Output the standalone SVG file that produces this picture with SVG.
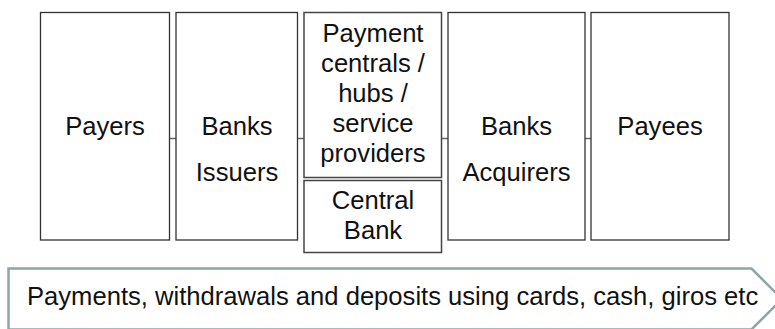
<svg xmlns="http://www.w3.org/2000/svg" width="775" height="329" viewBox="0 0 775 329">
<style>
.box{fill:#fff;stroke:#333;stroke-width:1.3}
.mid{fill:#fff;stroke:#444;stroke-width:1.5}
.t{font-family:"Liberation Sans",Arial,sans-serif;font-size:25.6px;fill:#111;text-anchor:middle}
.c{stroke:#666;stroke-width:1.5;fill:none}
</style>
<rect width="775" height="329" fill="#fff"/>
<g id="connectors">
<line class="c" x1="169" y1="138.5" x2="176" y2="138.5"/>
<line class="c" x1="298" y1="138.5" x2="304" y2="138.5"/>
<line class="c" x1="442" y1="138.5" x2="448" y2="138.5"/>
<line class="c" x1="585" y1="138.5" x2="591" y2="138.5"/>
</g>
<g id="payers">
<rect class="box" x="40.5" y="12.5" width="129" height="227.5"/>
<text class="t" x="105" y="135">Payers</text>
</g>
<g id="banks-issuers">
<rect class="box" x="176" y="12.5" width="121.5" height="227.5"/>
<text class="t" x="237" y="135">Banks</text>
<text class="t" x="237" y="181">Issuers</text>
</g>
<g id="payment-centrals">
<rect class="mid" x="304" y="12.5" width="137.5" height="165"/>
<text class="t" x="373" y="41.5">Payment</text>
<text class="t" x="373" y="71.5">centrals /</text>
<text class="t" x="373" y="101.5">hubs /</text>
<text class="t" x="373" y="131.5">service</text>
<text class="t" x="373" y="161.5">providers</text>
</g>
<g id="central-bank">
<rect class="mid" x="304" y="180.5" width="137.5" height="72"/>
<text class="t" x="373" y="209">Central</text>
<text class="t" x="373" y="239">Bank</text>
</g>
<g id="banks-acquirers">
<rect class="box" x="448" y="12.5" width="137" height="227.5"/>
<text class="t" x="516.5" y="135">Banks</text>
<text class="t" x="516.5" y="181">Acquirers</text>
</g>
<g id="payees">
<rect class="box" x="591" y="12.5" width="138" height="227.5"/>
<text class="t" x="660" y="135">Payees</text>
</g>
<g id="banner">
<path d="M8.5,268.5 H751.5 L782,299 L751.5,329.5 H8.5 Z" fill="#fff" stroke="#8CA5A6" stroke-width="2.5"/>
<text class="t" x="27" y="305" style="text-anchor:start">Payments, withdrawals and deposits using cards, cash, giros etc</text>
</g>
</svg>
